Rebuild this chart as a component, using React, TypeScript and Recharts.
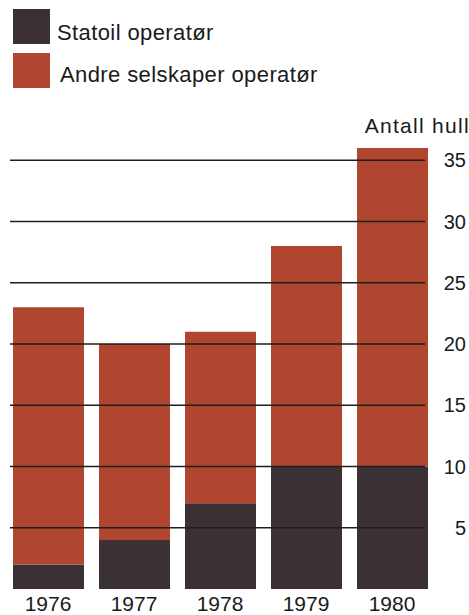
import React from 'react';
import { BarChart, Bar, XAxis, YAxis, Legend } from 'recharts';

const years = ['1976', '1977', '1978', '1979', '1980'];
const statoil = [2, 4, 7, 10, 10];
const andre = [21, 16, 14, 18, 26];
const yTicks = [5, 10, 15, 20, 25, 30, 35];
const seriesNames = ['Statoil operatør', 'Andre selskaper operatør'];
const colors = ['#3b3034', '#b0462f'];
const axisTitle = 'Antall hull';

const data = years.map((y, i) => ({ year: y, statoil: statoil[i], andre: andre[i] }));

const FONT = '"Liberation Sans", Arial, Helvetica, sans-serif';

const YTick = (props: any) => {
  const { y, payload } = props;
  return (
    <g>
      <line x1={10} x2={425} y1={y} y2={y} stroke="#1e1e1e" strokeWidth={1.5} />
      <text x={466} y={y + 7} textAnchor="end" fontSize={20} fontFamily={FONT} fill="#1a1a1a">
        {payload.value}
      </text>
    </g>
  );
};

const XTick = (props: any) => {
  const { x, y, payload } = props;
  return (
    <text x={x} y={y + 14} textAnchor="middle" fontSize={21} fontFamily={FONT} fill="#1a1a1a">
      {payload.value}
    </text>
  );
};

const LegendContent = () => (
  <svg width={469} height={95} style={{ display: 'block' }}>
    {seriesNames.map((name, i) => (
      <g key={name}>
        <rect x={13} y={9 + i * 44} width={37} height={35} fill={colors[i]} />
        <text x={57 + i * 3} y={40 + i * 42} fontSize={22} fontFamily={FONT} letterSpacing={0.4} fill="#1a1a1a">
          {name}
        </text>
      </g>
    ))}
  </svg>
);

const AxisTitle = (props: any) => {
  const vb = props.viewBox || {};
  return (
    <text x={vb.x + vb.width + 1} y={vb.y + 34} textAnchor="end" fontSize={21} letterSpacing={1.3} fontFamily={FONT} fill="#1a1a1a">
      {axisTitle}
    </text>
  );
};

export default function App() {
  return (
    <div style={{ position: 'absolute', left: 0, top: 0, width: 469, height: 615, background: '#fff' }}>
      <BarChart
        width={469}
        height={615}
        data={data}
        margin={{ top: 99, right: 0, bottom: 0, left: 5 }}
        barSize={71}
      >
        <Bar dataKey="statoil" name={seriesNames[0]} stackId="a" fill={colors[0]} isAnimationActive={false} />
        <Bar dataKey="andre" name={seriesNames[1]} stackId="a" fill={colors[1]} isAnimationActive={false} />
        <XAxis
          dataKey="year"
          axisLine={false}
          tickLine={false}
          height={26}
          tick={<XTick />}
          interval={0}
        />
        <YAxis
          orientation="right"
          domain={[0, 40]}
          ticks={yTicks}
          width={34}
          axisLine={false}
          tickLine={false}
          tick={<YTick />}
          label={<AxisTitle />}
        />
        <Legend
          layout="vertical"
          align="center"
          verticalAlign="middle"
          wrapperStyle={{ position: 'absolute', top: 0, left: 0, width: 469 }}
          content={<LegendContent />}
        />
      </BarChart>
    </div>
  );
}
